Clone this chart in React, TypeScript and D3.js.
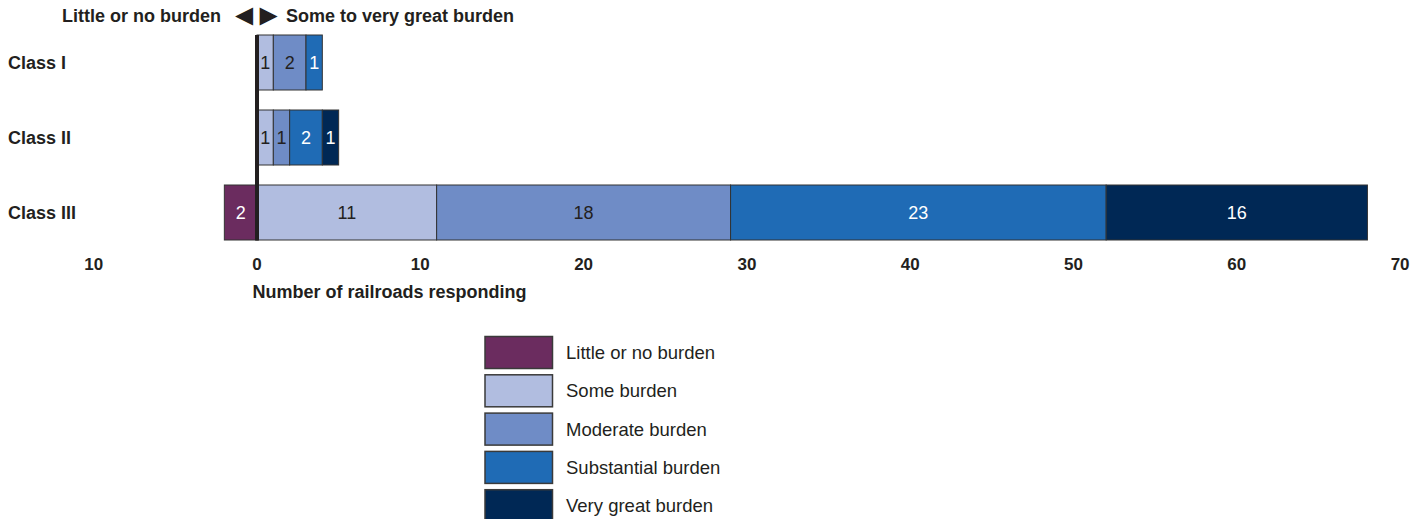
import React from "react";
import * as d3 from "d3";

const categories = ["Class I", "Class II", "Class III"];
const seriesNames = ["Little or no burden", "Some burden", "Moderate burden", "Substantial burden", "Very great burden"];
const littleOrNo = [0, 0, 2];
const some = [1, 1, 11];
const moderate = [2, 1, 18];
const substantial = [1, 2, 23];
const veryGreat = [0, 1, 16];
const tickValues = [-10, 0, 10, 20, 30, 40, 50, 60, 70];
const colors = ["#6b2c5f", "#b1bde0", "#6f8cc6", "#1f6bb5", "#002855"];
const labelColors = ["#ffffff", "#231f20", "#231f20", "#ffffff", "#ffffff"];

const FONT = "'Liberation Sans', Arial, Helvetica, sans-serif";

export default function App() {
  const W = 1425, H = 519;
  const x = d3.scaleLinear().domain([-10, 70]).range([93.7, 1400.1]);
  const y = d3.scaleBand().domain(categories).range([35, 240]).paddingInner(20 / 75).paddingOuter(0);
  const positives = [some, moderate, substantial, veryGreat];

  const rects: any[] = [];
  categories.forEach((c, i) => {
    const yy = y(c)!;
    const bh = y.bandwidth();
    if (littleOrNo[i] > 0) {
      rects.push({ key: `n-${i}`, x0: x(-littleOrNo[i]), x1: x(0), y: yy, h: bh, s: 0, v: littleOrNo[i] });
    }
    let acc = 0;
    positives.forEach((arr, si) => {
      const v = arr[i];
      if (v > 0) {
        rects.push({ key: `p-${i}-${si}`, x0: x(acc), x1: x(acc + v), y: yy, h: bh, s: si + 1, v });
      }
      acc += v;
    });
  });

  const legendY = d3.scaleBand().domain(seriesNames).range([336.5, 336.5 + 38.3 * 5]);

  return (
    <svg width={W} height={H} style={{ position: "absolute", left: 0, top: 0 }} fontFamily={FONT}>
      <rect x={0} y={0} width={W} height={H} fill="#ffffff" />
      {/* header */}
      <text x={221} y={21.5} textAnchor="end" fontSize={18} fontWeight="bold" fill="#231f20">Little or no burden</text>
      <text x={244} y={24.5} textAnchor="middle" fontSize={30} fill="#231f20">◄</text>
      <text x={268.5} y={24.5} textAnchor="middle" fontSize={30} fill="#231f20">►</text>
      <text x={286} y={21.5} textAnchor="start" fontSize={18} fontWeight="bold" fill="#231f20">Some to very great burden</text>
      {/* category labels */}
      {categories.map((c) => (
        <text key={c} x={8} y={y(c)! + y.bandwidth() / 2} dy="0.35em" fontSize={18} fontWeight="bold" fill="#231f20">{c}</text>
      ))}
      {/* bars */}
      {rects.map((r) => (
        <g key={r.key}>
          <rect x={r.x0} y={r.y} width={r.x1 - r.x0} height={r.h} fill={colors[r.s]} stroke="#333333" strokeWidth={1} />
          <text x={(r.x0 + r.x1) / 2} y={r.y + r.h / 2} dy="0.35em" textAnchor="middle" fontSize={18} fill={labelColors[r.s]}>{r.v}</text>
        </g>
      ))}
      {/* zero line */}
      <line x1={x(0)} x2={x(0)} y1={35} y2={240.5} stroke="#231f20" strokeWidth={4} />
      {/* tick labels */}
      {tickValues.map((t) => (
        <text key={t} x={x(t)} y={270} textAnchor="middle" fontSize={17} fontWeight="bold" fill="#231f20">{Math.abs(t)}</text>
      ))}
      <text x={252.5} y={298.3} fontSize={18} fontWeight="bold" fill="#231f20">Number of railroads responding</text>
      {/* legend */}
      {seriesNames.map((n, i) => (
        <g key={n}>
          <rect x={485} y={legendY(n)!} width={67.5} height={32} fill={colors[i]} stroke="#3a3a3a" strokeWidth={1.5} />
          <text x={566} y={legendY(n)! + 16} dy="0.35em" fontSize={18.5} fill="#231f20">{n}</text>
        </g>
      ))}
    </svg>
  );
}
